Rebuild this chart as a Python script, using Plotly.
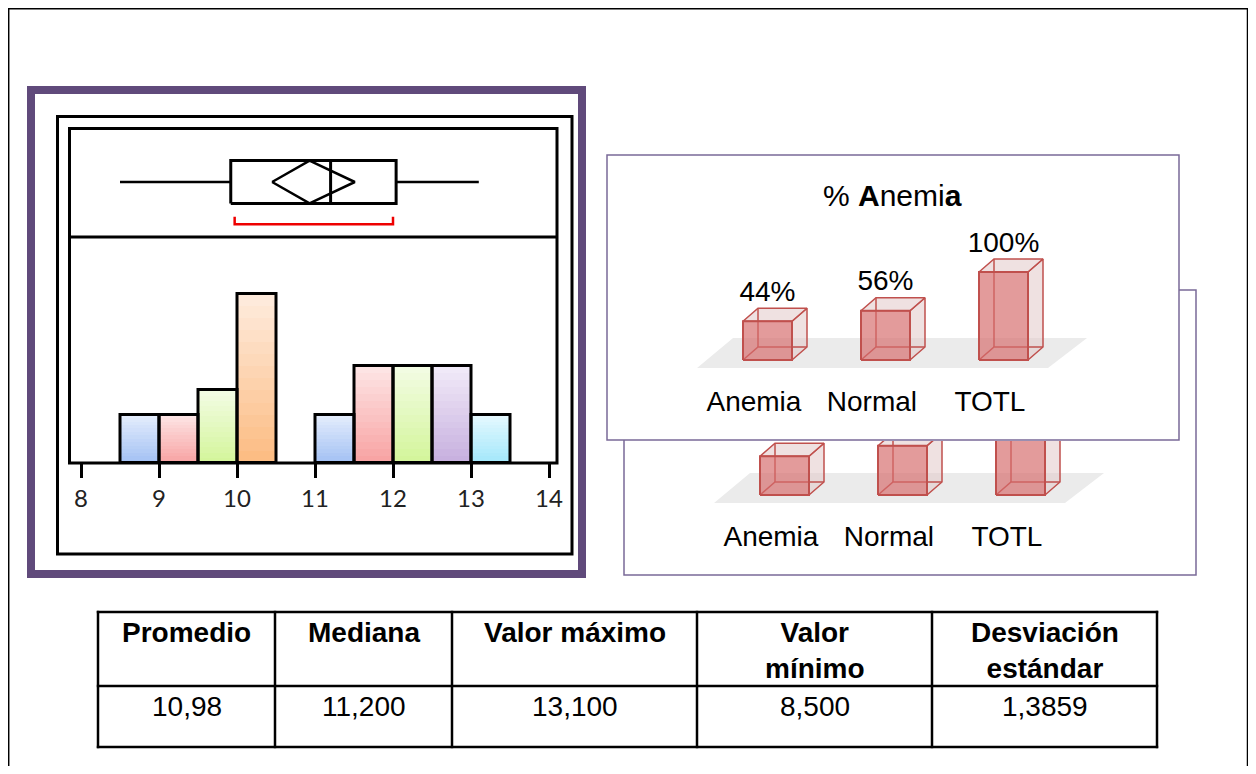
import plotly.graph_objects as go

OFF = 8                      # page body margin of the browser
W, H = 1256 - 2 * OFF, 774 - 2 * OFF

# ---------------- data ----------------
bin_left = [8.5, 9.0, 9.5, 10.0, 11.0, 11.5, 12.0, 12.5, 13.0]
bin_count = [2, 2, 3, 7, 2, 4, 4, 4, 2]
bin_color = ["blue", "pink", "green", "orange", "blue", "pink", "green", "purple", "cyan"]
bin_width = 0.5
x_ticks = [8, 9, 10, 11, 12, 13, 14]

box_min, box_q1, box_median, box_q3, box_max = 8.5, 9.92, 11.2, 12.04, 13.1
mean_value, mean_ci = 10.98, 0.53
shortest_half = [9.97, 12.0]

categories = ["Anemia", "Normal", "TOTL"]
percent = [44, 56, 100]
percent_labels = ["44%", "56%", "100%"]

table_header = ["Promedio", "Mediana", "Valor máximo", "Valor<br>mínimo", "Desviación<br>estándar"]
table_values = ["10,98", "11,200", "13,100", "8,500", "1,3859"]

# --------------- helpers (screen pixels -> paper) ---------------
def PXx(p):
    return (p - OFF) / W

def PYy(p):
    return 1 - (p - OFF) / H

def hexrgb(h):
    h = h.lstrip("#")
    return tuple(int(h[i:i + 2], 16) for i in (0, 2, 4))

def mix(c1, c2, t):
    a, b = hexrgb(c1), hexrgb(c2)
    return "rgb(%d,%d,%d)" % tuple(round(a[i] + (b[i] - a[i]) * t) for i in range(3))

palette = {
    "blue": ("#a4c2f4", "#e3ecfc"),
    "pink": ("#f8a4a4", "#fde4e4"),
    "green": ("#d4f59c", "#f2fce2"),
    "orange": ("#fcbd84", "#feeadb"),
    "purple": ("#c8b1df", "#f0e9f8"),
    "cyan": ("#a4e8fb", "#e4f8fe"),
}

FONT = "Liberation Sans, Arial, sans-serif"
fig = go.Figure()

# ---------------- histogram ----------------
h_dom_x = (69.5, 557.0)      # pixel extent of plot area
h_dom_y = (463.0, 237.0)     # bottom, top (pixels)
x_p0, x_scale = 81.0, 78.0   # px of value 8, px per unit
hx_range = [8 + (h_dom_x[0] - x_p0) / x_scale, 8 + (h_dom_x[1] - x_p0) / x_scale]
cnt_scale = 24.2
hy_range = [0, (h_dom_y[0] - h_dom_y[1]) / cnt_scale]

centers = [b + bin_width / 2 for b in bin_left]
N = 14
for k in range(N):
    frac = (N - k) / N
    cols = [mix(palette[c][1], palette[c][0], k / (N - 1)) for c in bin_color]
    fig.add_trace(go.Bar(
        x=centers, y=[c * frac for c in bin_count], width=bin_width,
        marker=dict(color=cols, line=dict(width=0)),
        xaxis="x", yaxis="y", showlegend=False, hoverinfo="skip"))
fig.add_trace(go.Bar(
    x=centers, y=bin_count, width=bin_width,
    marker=dict(color="rgba(0,0,0,0)", line=dict(color="black", width=3)),
    xaxis="x", yaxis="y", showlegend=False))

# ---------------- box plot ----------------
b_dom_y = (237.0, 130.0)
yc, hh = 0.514, 0.2
fig.add_trace(go.Scatter(x=[box_min, box_q1], y=[yc, yc], mode="lines",
                         line=dict(color="black", width=2.5), xaxis="x2", yaxis="y2", showlegend=False))
fig.add_trace(go.Scatter(x=[box_q3, box_max], y=[yc, yc], mode="lines",
                         line=dict(color="black", width=2.5), xaxis="x2", yaxis="y2", showlegend=False))
fig.add_trace(go.Scatter(x=[box_q1, box_q3, box_q3, box_q1, box_q1],
                         y=[yc - hh, yc - hh, yc + hh, yc + hh, yc - hh], mode="lines",
                         line=dict(color="black", width=3), xaxis="x2", yaxis="y2", showlegend=False))
fig.add_trace(go.Scatter(x=[box_median, box_median], y=[yc - hh, yc + hh], mode="lines",
                         line=dict(color="black", width=3), xaxis="x2", yaxis="y2", showlegend=False))
fig.add_trace(go.Scatter(x=[mean_value - mean_ci, mean_value - 0.05, mean_value + mean_ci, mean_value - 0.05, mean_value - mean_ci],
                         y=[yc, yc + hh, yc, yc - hh, yc], mode="lines",
                         line=dict(color="black", width=2.5), xaxis="x2", yaxis="y2", showlegend=False))
fig.add_trace(go.Scatter(x=[shortest_half[0], shortest_half[0], shortest_half[1], shortest_half[1]],
                         y=[0.19, 0.12, 0.12, 0.19], mode="lines",
                         line=dict(color="#ee0000", width=2.5), xaxis="x2", yaxis="y2", showlegend=False))

# ---------------- 3D bar panels ----------------
bar_px0, bar_step = 767.5, 118.0   # px of index 0, px per index
base_px, pct_scale = 360.0, 0.88   # px of 0 % in front panel, px per %
front = dict(x0=607, x1=1179, y0=155, y1=440)
shift_x, shift_y = 17, 135
back = dict(x0=front["x0"] + shift_x, x1=front["x1"] + shift_x, y0=front["y0"] + shift_y, y1=front["y1"] + shift_y)

bx_range = [(front["x0"] - bar_px0) / bar_step, (front["x1"] - bar_px0) / bar_step]
fy_range = [(base_px - front["y1"]) / pct_scale, (base_px - front["y0"]) / pct_scale]
back_visible_top = front["y1"] + 1
by_range = [(base_px + shift_y - back["y1"]) / pct_scale, (base_px + shift_y - back_visible_top) / pct_scale]

hw, ddx, ddy = 24.5 / bar_step, 15.0 / bar_step, 13.0 / pct_scale
edge = "#c0504d"
face = "rgba(214,108,108,0.68)"
side = "rgba(225,200,200,0.55)"

def add_bars3d(xa, ya, with_values):
    n = len(categories)
    fx = [-0.597, 2.377 + (n - 3), 2.708 + (n - 3), -0.292, -0.597]
    fy = [-9, -9, 25, 25, -9]
    fig.add_trace(go.Scatter(x=fx, y=fy, fill="toself", fillcolor="#ebebeb", mode="lines",
                             line=dict(width=0), xaxis=xa, yaxis=ya, showlegend=False, hoverinfo="skip"))
    for i, v in enumerate(percent):
        fig.add_trace(go.Scatter(
            x=[i + hw, i + hw + ddx, i + hw + ddx, i + hw, i + hw],
            y=[0, ddy, v + ddy, v, 0], fill="toself", fillcolor=side, mode="lines",
            line=dict(color=edge, width=1.5), xaxis=xa, yaxis=ya, showlegend=False, hoverinfo="skip"))
        fig.add_trace(go.Scatter(
            x=[i - hw, i - hw + ddx, i + hw + ddx, i + hw, i - hw],
            y=[v, v + ddy, v + ddy, v, v], fill="toself", fillcolor=side, mode="lines",
            line=dict(color=edge, width=1.5), xaxis=xa, yaxis=ya, showlegend=False, hoverinfo="skip"))
        fig.add_trace(go.Scatter(
            x=[i - hw, i - hw + ddx, i + hw + ddx, None, i - hw + ddx, i - hw + ddx],
            y=[0, ddy, ddy, None, ddy, v + ddy], mode="lines",
            line=dict(color=edge, width=1.5), xaxis=xa, yaxis=ya, showlegend=False, hoverinfo="skip"))
        fig.add_trace(go.Scatter(
            x=[i - hw, i + hw, i + hw, i - hw, i - hw], y=[0, 0, v, v, 0],
            fill="toself", fillcolor=face, mode="lines",
            line=dict(color=edge, width=2), xaxis=xa, yaxis=ya, showlegend=False, hoverinfo="skip"))
    if with_values:
        fig.add_trace(go.Scatter(x=list(range(n)), y=[v + 31 for v in percent], mode="text",
                                 text=percent_labels, textfont=dict(family=FONT, size=28, color="black"),
                                 xaxis=xa, yaxis=ya, showlegend=False, hoverinfo="skip"))
    fig.add_trace(go.Scatter(x=[i - 0.115 for i in range(n)], y=[-50] * n, mode="text",
                             text=categories, textfont=dict(family=FONT, size=28, color="black"),
                             xaxis=xa, yaxis=ya, showlegend=False, hoverinfo="skip"))

add_bars3d("x4", "y4", False)
add_bars3d("x3", "y3", True)

# ---------------- table (grid + text) ----------------
col_edges = [98, 275, 452, 697, 932, 1157]
row_edges = [612, 686, 747]
shapes = []
for xe in col_edges:
    shapes.append(dict(type="line", xref="paper", yref="paper", x0=PXx(xe), x1=PXx(xe),
                       y0=PYy(row_edges[0] - 1.2), y1=PYy(row_edges[-1] + 1.2),
                       line=dict(color="black", width=2.5)))
for ye in row_edges:
    shapes.append(dict(type="line", xref="paper", yref="paper", x0=PXx(col_edges[0] - 1.2), x1=PXx(col_edges[-1] + 1.2),
                       y0=PYy(ye), y1=PYy(ye), line=dict(color="black", width=2.5)))

annotations = []
for j, (hd, val) in enumerate(zip(table_header, table_values)):
    xc = (col_edges[j] + col_edges[j + 1]) / 2
    annotations.append(dict(text="<b>%s</b>" % hd, xref="paper", yref="paper", x=PXx(xc), y=PYy(615),
                            xanchor="center", yanchor="top", align="center", showarrow=False,
                            font=dict(family=FONT, size=28, color="black")))
    annotations.append(dict(text=val, xref="paper", yref="paper", x=PXx(xc), y=PYy(706),
                            xanchor="center", yanchor="middle", align="center", showarrow=False,
                            font=dict(family=FONT, size=28, color="black")))

# ---------------- frames ----------------
shapes += [
    dict(type="path", xref="paper", yref="paper",
         path="M %f,%f L %f,%f L %f,%f L %f,%f" % (PXx(8.7), -0.05, PXx(8.7), PYy(8.7), PXx(1247.5), PYy(8.7), PXx(1247.5), -0.05),
         line=dict(color="black", width=1.5), layer="below"),
    dict(type="rect", xref="paper", yref="paper", x0=PXx(31), x1=PXx(582), y0=PYy(574), y1=PYy(90),
         line=dict(color="#604a7b", width=8), layer="below"),
    dict(type="rect", xref="paper", yref="paper", x0=PXx(57.5), x1=PXx(572), y0=PYy(554), y1=PYy(116.5),
         line=dict(color="black", width=3), layer="below"),
    dict(type="rect", xref="paper", yref="paper", x0=PXx(69.5), x1=PXx(557), y0=PYy(463), y1=PYy(128.5),
         line=dict(color="black", width=3), layer="above"),
    dict(type="line", xref="paper", yref="paper", x0=PXx(69.5), x1=PXx(557), y0=PYy(237), y1=PYy(237),
         line=dict(color="black", width=3), layer="above"),
    dict(type="rect", xref="paper", yref="paper", x0=PXx(back["x0"]), x1=PXx(back["x1"]),
         y0=PYy(back["y1"]), y1=PYy(back["y0"]), fillcolor="white",
         line=dict(color="#7a6a98", width=1.5), layer="below"),
    dict(type="rect", xref="paper", yref="paper", x0=PXx(front["x0"]), x1=PXx(front["x1"]),
         y0=PYy(front["y1"]), y1=PYy(front["y0"]), fillcolor="white",
         line=dict(color="#7a6a98", width=1.5), layer="below"),
]

annotations.append(dict(text="% <b>A</b>nemi<b>a</b>", xref="paper", yref="paper", x=PXx(892), y=PYy(196),
                        showarrow=False, xanchor="center", yanchor="middle",
                        font=dict(family=FONT, size=30, color="black")))

hidden = dict(visible=False, showgrid=False, zeroline=False, autorange=False, fixedrange=True, automargin=False)

fig.update_layout(
    template="none",
    width=W, height=H, margin=dict(l=0, r=0, t=0, b=0, pad=0, autoexpand=False),
    paper_bgcolor="white", plot_bgcolor="rgba(0,0,0,0)",
    barmode="overlay", bargap=0, showlegend=False,
    shapes=shapes, annotations=annotations,
    xaxis=dict(domain=[PXx(h_dom_x[0]), PXx(h_dom_x[1])], range=hx_range, autorange=False, automargin=False,
               tickvals=x_ticks, ticks="outside", ticklen=14, tickwidth=3, tickcolor="black",
               showline=False, showgrid=False, zeroline=False, anchor="y",
               tickfont=dict(family="Lato, Carlito, sans-serif", size=24, color="#222222")),
    yaxis=dict(domain=[PYy(h_dom_y[0]), PYy(h_dom_y[1])], range=hy_range, anchor="x", **hidden),
    xaxis2=dict(domain=[PXx(h_dom_x[0]), PXx(h_dom_x[1])], range=hx_range, anchor="y2", **hidden),
    yaxis2=dict(domain=[PYy(b_dom_y[0]), PYy(b_dom_y[1])], range=[0, 1], anchor="x2", **hidden),
    xaxis3=dict(domain=[PXx(front["x0"]), PXx(front["x1"])], range=bx_range, anchor="y3", **hidden),
    yaxis3=dict(domain=[PYy(front["y1"]), PYy(front["y0"])], range=fy_range, anchor="x3", **hidden),
    xaxis4=dict(domain=[PXx(back["x0"]), PXx(back["x1"])], range=bx_range, anchor="y4", **hidden),
    yaxis4=dict(domain=[PYy(back["y1"]), PYy(back_visible_top)], range=by_range, anchor="x4", **hidden),
)

fig.write_html("out.html")
